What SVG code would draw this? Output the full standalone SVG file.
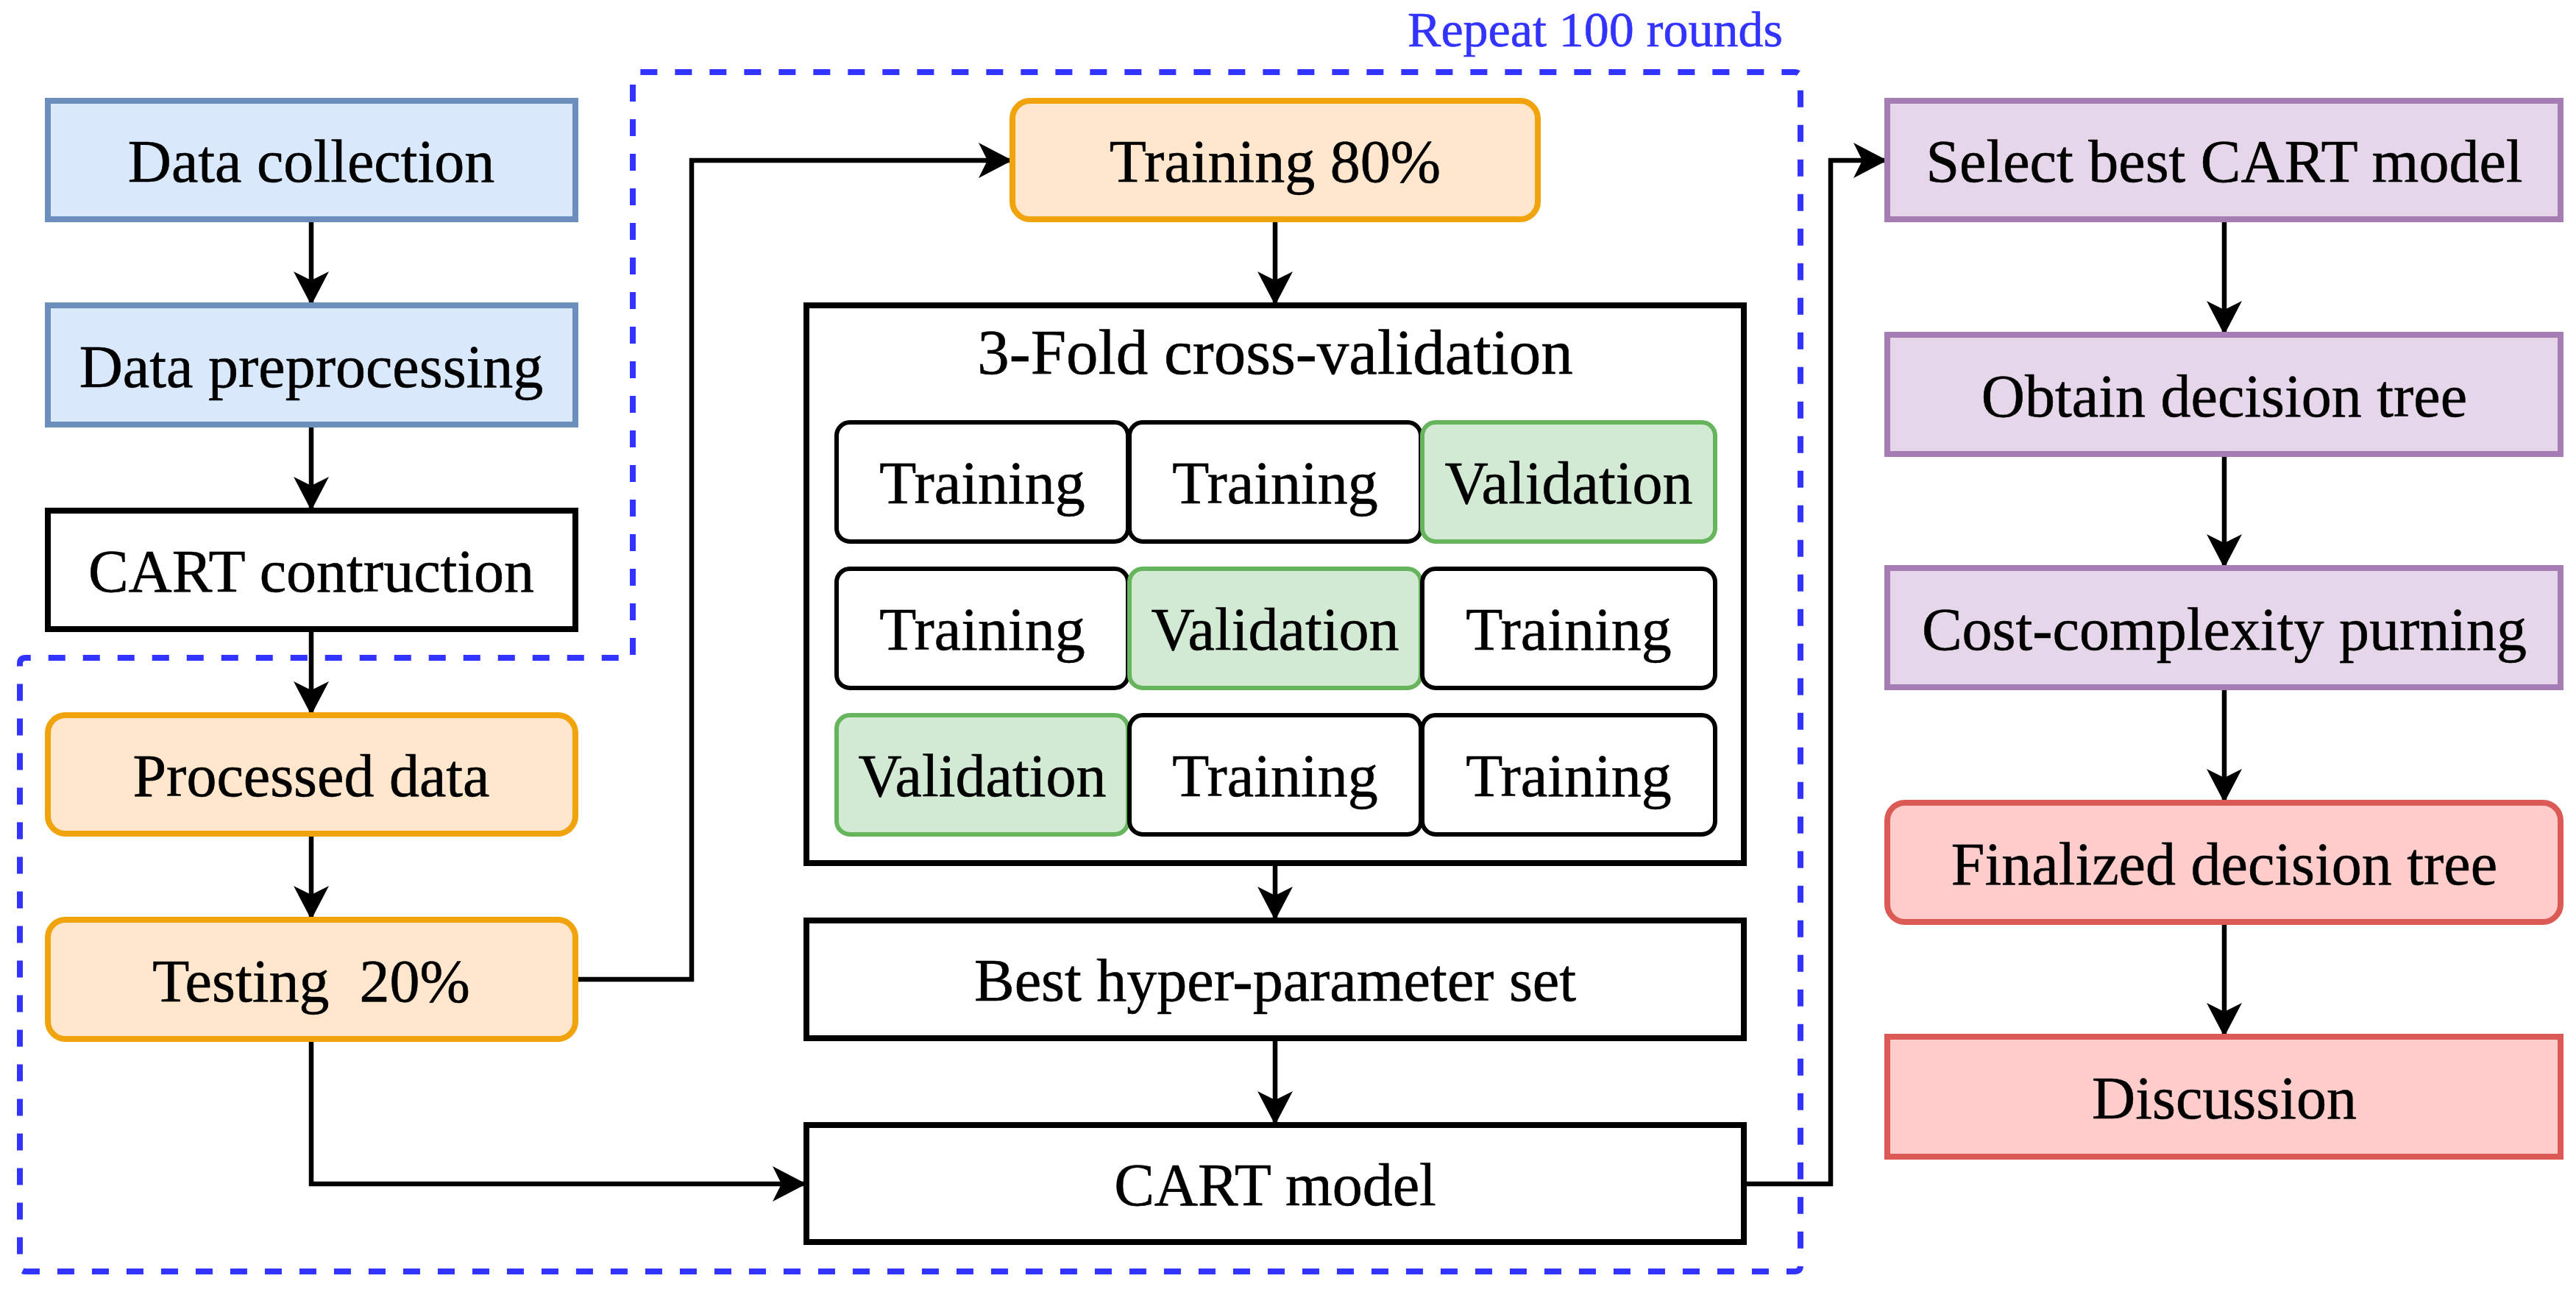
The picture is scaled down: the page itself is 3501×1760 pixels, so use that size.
<svg xmlns="http://www.w3.org/2000/svg" width="3501" height="1760" viewBox="0 0 3501 1760">
<defs>
<style>
text{font-family:"Liberation Serif","Times New Roman",serif;font-size:82px;fill:#000;text-anchor:middle;stroke:#000;stroke-width:0.6}
.blue{fill:#dae8fc;stroke:#6c8ebf;stroke-width:8}
.white{fill:#fff;stroke:#000;stroke-width:8}
.orange{fill:#ffe6cc;stroke:#f0a30a;stroke-width:8}
.purple{fill:#e6d6ea;stroke:#a57db4;stroke-width:8}
.red{fill:#ffcccc;stroke:#dc5a55;stroke-width:8}
.cell{fill:#fff;stroke:#000;stroke-width:6}
.gcell{fill:#d2e9d4;stroke:#66b55c;stroke-width:6}
.conn path{fill:none;stroke:#000;stroke-width:6.5}
.arr{marker-end:url(#ah)}
.dash{fill:none;stroke:#3333ff;stroke-width:8;stroke-dasharray:23 24}
</style>
<marker id="ah" markerUnits="userSpaceOnUse" viewBox="-48 -26 50 52" markerWidth="50" markerHeight="52" refX="0" refY="0" orient="auto">
<path d="M0,0 L-46,-24 L-34,0 L-46,24 Z" fill="#000"/>
</marker>
</defs>
<rect x="0" y="0" width="3501" height="1760" fill="#fff"/>

<g id="repeat-region">
<path class="dash" d="M860,890 L860,106 Q860,98 868,98 L2439,98 Q2447,98 2447,106 L2447,1720 Q2447,1728 2439,1728 L35,1728 Q27,1728 27,1720 L27,902 Q27,894 35,894 L852,894 Q860,894 860,886"/>
<text x="2168" y="63" style="font-size:68px;fill:#3333ff;stroke:#3333ff">Repeat 100 rounds</text>
</g>

<g id="connectors" class="conn">
<path class="arr" d="M423,298 L423,415"/>
<path class="arr" d="M423,577 L423,694"/>
<path class="arr" d="M423,855 L423,972"/>
<path class="arr" d="M423,1133 L423,1250"/>
<path class="arr" d="M782,1331 L940,1331 L940,218 L1376,218"/>
<path class="arr" d="M423,1412 L423,1609 L1096,1609"/>
<path class="arr" d="M1733,298 L1733,415"/>
<path class="arr" d="M1733,1173 L1733,1251"/>
<path class="arr" d="M1733,1411 L1733,1529"/>
<path class="arr" d="M2370,1609 L2488,1609 L2488,218 L2565,218"/>
<path class="arr" d="M3023,298 L3023,455"/>
<path class="arr" d="M3023,617 L3023,772"/>
<path class="arr" d="M3023,934 L3023,1091"/>
<path class="arr" d="M3023,1253 L3023,1409"/>
</g>

<g id="data-collection">
<rect class="blue" x="65" y="137" width="717" height="161"/>
<text x="423" y="247">Data collection</text>
</g>
<g id="data-preprocessing">
<rect class="blue" x="65" y="415" width="717" height="162"/>
<text x="423" y="526">Data preprocessing</text>
</g>
<g id="cart-construction">
<rect class="white" x="65" y="694" width="717" height="161"/>
<text x="423" y="804">CART contruction</text>
</g>
<g id="processed-data">
<rect class="orange" x="65" y="972" width="717" height="161" rx="24"/>
<text x="423" y="1082">Processed data</text>
</g>
<g id="testing">
<rect class="orange" x="65" y="1250" width="717" height="162" rx="24"/>
<text x="423" y="1361" xml:space="preserve" style="white-space:pre">Testing  20%</text>
</g>

<g id="training80">
<rect class="orange" x="1376" y="137" width="714" height="161" rx="24"/>
<text x="1733" y="247">Training 80%</text>
</g>
<g id="cross-validation">
<rect class="white" x="1096" y="415" width="1274" height="758"/>
<text x="1733" y="508" style="font-size:87px">3-Fold cross-validation</text>
<rect class="cell" x="1137" y="574" width="396" height="162" rx="18"/>
<text x="1335" y="684">Training</text>
<rect class="cell" x="1535" y="574" width="396" height="162" rx="18"/>
<text x="1733" y="684">Training</text>
<rect class="gcell" x="1933" y="574" width="398" height="162" rx="18"/>
<text x="2132" y="684">Validation</text>
<rect class="cell" x="1137" y="773" width="396" height="162" rx="18"/>
<text x="1335" y="883">Training</text>
<rect class="gcell" x="1535" y="773" width="396" height="162" rx="18"/>
<text x="1733" y="883">Validation</text>
<rect class="cell" x="1933" y="773" width="398" height="162" rx="18"/>
<text x="2132" y="883">Training</text>
<rect class="gcell" x="1137" y="972" width="396" height="162" rx="18"/>
<text x="1335" y="1082">Validation</text>
<rect class="cell" x="1535" y="972" width="396" height="162" rx="18"/>
<text x="1733" y="1082">Training</text>
<rect class="cell" x="1933" y="972" width="398" height="162" rx="18"/>
<text x="2132" y="1082">Training</text>
</g>
<g id="best-hyper">
<rect class="white" x="1096" y="1251" width="1274" height="160"/>
<text x="1733" y="1360">Best hyper-parameter set</text>
</g>
<g id="cart-model">
<rect class="white" x="1096" y="1529" width="1274" height="159"/>
<text x="1733" y="1638">CART model</text>
</g>

<g id="select-best">
<rect class="purple" x="2565" y="137" width="915" height="161"/>
<text x="3023" y="247">Select best CART model</text>
</g>
<g id="obtain-tree">
<rect class="purple" x="2565" y="455" width="915" height="162"/>
<text x="3023" y="566">Obtain decision tree</text>
</g>
<g id="pruning">
<rect class="purple" x="2565" y="772" width="915" height="162"/>
<text x="3023" y="883">Cost-complexity purning</text>
</g>
<g id="finalized">
<rect class="red" x="2565" y="1091" width="915" height="162" rx="24"/>
<text x="3023" y="1202">Finalized decision tree</text>
</g>
<g id="discussion">
<rect class="red" x="2565" y="1409" width="915" height="163"/>
<text x="3023" y="1520">Discussion</text>
</g>
</svg>
